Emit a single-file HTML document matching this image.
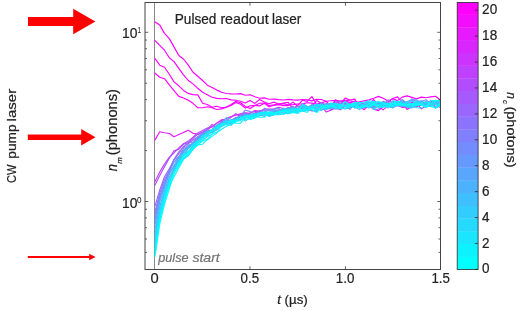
<!DOCTYPE html>
<html><head><meta charset="utf-8"><title>Pulsed readout laser</title>
<style>
html,body{margin:0;padding:0;background:#fff;}
body{width:523px;height:310px;overflow:hidden;font-family:"Liberation Sans",sans-serif;}
svg{display:block;will-change:transform;opacity:0.999;}
text{font-family:"Liberation Sans",sans-serif;fill:#222;stroke:#222;stroke-width:0.22px;}
text.s{stroke-width:0.05px;}
</style></head><body>
<svg width="523" height="310" viewBox="0 0 523 310">
<rect width="523" height="310" fill="#fff"/>
<defs>
<linearGradient id="cool" x1="0" y1="1" x2="0" y2="0">
<stop offset="0" stop-color="#00ffff"/><stop offset="0.97" stop-color="#ff00ff"/><stop offset="1" stop-color="#ff00ff"/>
</linearGradient>
<clipPath id="pc"><rect x="145" y="2.5" width="295.5" height="267"/></clipPath>
</defs>

<!-- red arrows -->
<g fill="#ff0000">
<path d="M28 16.9H73.2V8.8L95.4 21.5L73.2 34.2V26H28Z"/>
<path d="M27.8 134.5H81.2V128.9L95.5 137.2L81.2 145.4V140.1H27.8Z"/>
<path d="M27.8 256.1H89.2V253.8L95.6 257L89.2 260.2V257.9H27.8Z"/>
</g>

<!-- pulse start line -->
<path d="M154.5 2.5V269.5" stroke="#8a8a8a" stroke-width="1" fill="none"/>

<!-- curves -->
<g fill="none" stroke-width="1.15" stroke-linejoin="round" stroke-linecap="round" clip-path="url(#pc)">
<polyline points="155.0,22.0 159.8,25.1 164.5,33.4 169.3,38.6 174.0,46.9 178.8,55.5 183.5,59.0 188.3,65.1 193.0,72.3 197.8,76.3 202.6,80.5 207.3,85.2 212.1,87.4 216.8,90.1 221.6,92.2 226.3,93.5 231.1,93.9 235.8,94.0 240.6,93.6 245.3,95.3 250.1,94.8 254.9,96.7 259.6,98.2 264.4,97.9 269.1,99.3 273.9,99.1 278.6,99.6 283.4,100.0 288.1,99.4 292.9,99.9 297.6,100.1 302.4,99.5 307.2,99.7 311.9,100.9 316.7,99.3 321.4,99.5 326.2,101.2 330.9,100.7 335.7,100.4 340.4,101.0 345.2,100.4 350.0,100.7 354.7,102.1 359.5,101.8 364.2,100.9 369.0,99.9 373.7,98.3 378.5,96.4 383.2,98.3 388.0,101.0 392.8,98.8 397.5,100.6 402.3,97.1 407.0,95.9 411.8,97.4 416.5,98.9 421.3,97.1 426.0,97.7 430.8,96.9 435.5,96.2 440.3,100.0" stroke="#ff00ff"/>
<polyline points="155.0,40.6 159.8,45.4 164.5,50.2 169.3,57.8 174.0,61.6 178.8,68.4 183.5,74.8 188.3,80.5 193.0,83.9 197.8,88.3 202.6,92.3 207.3,94.7 212.1,97.2 216.8,98.4 221.6,98.8 226.3,98.5 231.1,99.9 235.8,100.2 240.6,101.2 245.3,103.0 250.1,100.6 254.9,103.4 259.6,99.4 264.4,102.1 269.1,103.7 273.9,102.1 278.6,104.0 283.4,103.6 288.1,104.9 292.9,104.6 297.6,104.0 302.4,103.9 307.2,102.7 311.9,103.1 316.7,104.3 321.4,103.4 326.2,104.9 330.9,105.8 335.7,104.9 340.4,108.4 345.2,104.4 350.0,104.3 354.7,105.3 359.5,102.5 364.2,103.7 369.0,104.0 373.7,99.6 378.5,105.3 383.2,106.2 388.0,103.3 392.8,103.4 397.5,105.2 402.3,103.9 407.0,103.4 411.8,100.1 416.5,104.1 421.3,104.4 426.0,104.9 430.8,100.4 435.5,107.0 440.3,105.5" stroke="#ff00ff"/>
<polyline points="155.0,58.7 159.8,65.2 164.5,67.2 169.3,74.3 174.0,81.9 178.8,85.8 183.5,90.4 188.3,93.4 193.0,94.6 197.8,94.9 202.6,103.3 207.3,104.5 212.1,107.2 216.8,106.3 221.6,107.7 226.3,107.3 231.1,104.6 235.8,101.5 240.6,102.8 245.3,106.4 250.1,108.6 254.9,105.5 259.6,103.2 264.4,103.1 269.1,105.5 273.9,104.9 278.6,104.1 283.4,103.1 288.1,102.3 292.9,108.8 297.6,105.4 302.4,100.3 307.2,101.4 311.9,96.6 316.7,104.2 321.4,102.8 326.2,101.4 330.9,105.9 335.7,99.9 340.4,103.9 345.2,98.1 350.0,100.0 354.7,99.1 359.5,106.3 364.2,109.7 369.0,105.0 373.7,106.6 378.5,104.3 383.2,105.6 388.0,102.3 392.8,98.5 397.5,96.9 402.3,102.4 407.0,109.5 411.8,106.5 416.5,103.2 421.3,108.8 426.0,106.1 430.8,104.7 435.5,104.7 440.3,103.5" stroke="#ff00ff"/>
<polyline points="155.0,73.2 159.8,77.2 164.5,78.7 169.3,84.9 174.0,90.6 178.8,96.4 183.5,98.0 188.3,100.2 193.0,103.3 197.8,107.8 202.6,107.7 207.3,106.8 212.1,107.7 216.8,109.5 221.6,108.9 226.3,107.1 231.1,105.5 235.8,102.4 240.6,104.2 245.3,108.1 250.1,105.7 254.9,105.4 259.6,105.9 264.4,103.3 269.1,106.8 273.9,105.2 278.6,104.6 283.4,105.6 288.1,105.6 292.9,102.1 297.6,106.2 302.4,105.9 307.2,109.3 311.9,106.1 316.7,100.5 321.4,103.6 326.2,109.6 330.9,105.8 335.7,103.0 340.4,101.2 345.2,100.9 350.0,102.9 354.7,101.1 359.5,108.0 364.2,105.4 369.0,105.5 373.7,109.3 378.5,110.7 383.2,106.4 388.0,106.4 392.8,107.5 397.5,105.3 402.3,100.0 407.0,105.0 411.8,107.3 416.5,106.8 421.3,102.8 426.0,103.5 430.8,102.6 435.5,103.0 440.3,107.7" stroke="#ff00ff"/>
<polyline points="155.0,139.9 159.8,131.7 164.5,132.7 169.3,133.5 174.0,136.8 178.8,134.6 183.5,132.4 188.3,130.3 193.0,133.3 197.8,134.4 202.6,132.1 207.3,129.5 212.1,126.4 216.8,123.1 221.6,120.6 226.3,118.5 231.1,116.5 235.8,115.1 240.6,113.9 245.3,112.8 250.1,113.4 254.9,110.6 259.6,111.4 264.4,109.0 269.1,109.0 273.9,109.1 278.6,107.2 283.4,108.5 288.1,113.2 292.9,111.9 297.6,110.9 302.4,110.6 307.2,108.5 311.9,107.4 316.7,105.2 321.4,105.9 326.2,112.0 330.9,110.3 335.7,106.5 340.4,104.7 345.2,103.0 350.0,105.5 354.7,106.4 359.5,101.9 364.2,105.3 369.0,103.6 373.7,108.2 378.5,106.5 383.2,109.8 388.0,105.3 392.8,104.1 397.5,105.2 402.3,107.5 407.0,107.0 411.8,102.1 416.5,104.0 421.3,104.3 426.0,103.1 430.8,102.1 435.5,108.0 440.3,104.5" stroke="#e619ff"/>
<polyline points="155.0,181.6 159.8,171.9 164.5,164.1 169.3,157.3 174.0,152.8 178.8,147.9 183.5,143.7 188.3,141.1 193.0,137.2 197.8,132.9 202.6,130.6 207.3,128.1 212.1,127.0 216.8,123.1 221.6,119.6 226.3,120.6 231.1,117.2 235.8,113.7 240.6,116.6 245.3,114.3 250.1,115.4 254.9,113.1 259.6,111.0 264.4,110.0 269.1,110.8 273.9,111.0 278.6,109.7 283.4,110.1 288.1,107.5 292.9,109.5 297.6,106.1 302.4,108.1 307.2,109.8 311.9,110.5 316.7,111.5 321.4,105.2 326.2,108.1 330.9,109.2 335.7,108.8 340.4,104.8 345.2,106.4 350.0,109.3 354.7,103.3 359.5,105.7 364.2,107.3 369.0,104.1 373.7,105.8 378.5,102.9 383.2,102.7 388.0,102.6 392.8,104.4 397.5,104.2 402.3,106.1 407.0,102.8 411.8,103.6 416.5,105.8 421.3,105.4 426.0,101.7 430.8,104.7 435.5,103.1 440.3,104.4" stroke="#bf40ff"/>
<polyline points="155.0,185.1 159.8,175.5 164.5,166.8 169.3,158.1 174.0,150.9 178.8,149.3 183.5,144.3 188.3,142.7 193.0,138.6 197.8,134.0 202.6,134.0 207.3,129.2 212.1,124.5 216.8,128.4 221.6,121.2 226.3,122.5 231.1,121.9 235.8,119.4 240.6,114.4 245.3,117.6 250.1,112.8 254.9,111.4 259.6,112.5 264.4,114.4 269.1,113.5 273.9,114.0 278.6,111.3 283.4,111.0 288.1,108.7 292.9,109.4 297.6,110.9 302.4,109.1 307.2,109.9 311.9,107.7 316.7,106.8 321.4,107.6 326.2,106.9 330.9,108.0 335.7,107.2 340.4,109.8 345.2,106.4 350.0,105.5 354.7,103.6 359.5,105.0 364.2,106.5 369.0,103.9 373.7,104.6 378.5,106.1 383.2,104.8 388.0,103.7 392.8,106.2 397.5,105.0 402.3,105.2 407.0,106.7 411.8,106.9 416.5,104.0 421.3,103.1 426.0,104.4 430.8,103.8 435.5,100.3 440.3,105.5" stroke="#b24dff"/>
<polyline points="155.0,205.8 159.8,189.9 164.5,176.8 169.3,168.9 174.0,159.6 178.8,153.7 183.5,146.6 188.3,143.7 193.0,140.1 197.8,136.9 202.6,134.9 207.3,131.6 212.1,130.2 216.8,125.7 221.6,122.2 226.3,121.4 231.1,120.9 235.8,121.1 240.6,119.2 245.3,113.1 250.1,115.3 254.9,117.3 259.6,114.6 264.4,112.5 269.1,113.2 273.9,111.4 278.6,112.7 283.4,111.3 288.1,113.2 292.9,111.4 297.6,108.2 302.4,109.7 307.2,110.2 311.9,107.1 316.7,106.4 321.4,102.4 326.2,107.4 330.9,105.3 335.7,101.8 340.4,101.5 345.2,104.3 350.0,106.5 354.7,105.2 359.5,105.9 364.2,103.0 369.0,101.9 373.7,105.8 378.5,105.7 383.2,104.7 388.0,106.9 392.8,103.0 397.5,103.2 402.3,105.9 407.0,107.9 411.8,104.8 416.5,107.3 421.3,103.4 426.0,104.3 430.8,103.5 435.5,100.7 440.3,103.5" stroke="#9f60ff"/>
<polyline points="155.0,211.5 159.8,192.8 164.5,179.8 169.3,170.5 174.0,159.5 178.8,151.8 183.5,147.5 188.3,142.2 193.0,142.2 197.8,137.9 202.6,132.7 207.3,129.6 212.1,132.3 216.8,125.3 221.6,121.9 226.3,121.3 231.1,120.4 235.8,118.5 240.6,115.1 245.3,113.1 250.1,115.5 254.9,114.2 259.6,110.5 264.4,114.6 269.1,114.2 273.9,111.8 278.6,110.7 283.4,110.9 288.1,108.7 292.9,106.5 297.6,108.8 302.4,105.5 307.2,107.9 311.9,104.6 316.7,106.2 321.4,106.1 326.2,109.5 330.9,104.5 335.7,102.7 340.4,103.6 345.2,102.8 350.0,103.5 354.7,105.4 359.5,106.4 364.2,108.2 369.0,103.9 373.7,109.4 378.5,109.2 383.2,104.9 388.0,100.0 392.8,103.1 397.5,104.0 402.3,99.6 407.0,103.2 411.8,103.3 416.5,102.2 421.3,104.6 426.0,105.8 430.8,103.2 435.5,104.0 440.3,102.4" stroke="#8c73ff"/>
<polyline points="155.0,215.0 159.8,195.7 164.5,183.0 169.3,171.5 174.0,159.7 178.8,156.8 183.5,148.5 188.3,146.0 193.0,145.0 197.8,139.2 202.6,133.7 207.3,129.7 212.1,130.8 216.8,127.1 221.6,125.4 226.3,124.0 231.1,120.7 235.8,118.4 240.6,115.7 245.3,110.2 250.1,111.4 254.9,113.9 259.6,113.7 264.4,114.3 269.1,112.9 273.9,112.8 278.6,113.4 283.4,109.9 288.1,109.8 292.9,106.8 297.6,110.6 302.4,109.2 307.2,109.3 311.9,111.0 316.7,110.1 321.4,107.4 326.2,108.2 330.9,103.9 335.7,106.3 340.4,106.1 345.2,102.5 350.0,107.3 354.7,104.3 359.5,106.2 364.2,104.3 369.0,106.6 373.7,107.5 378.5,103.6 383.2,101.4 388.0,103.5 392.8,105.7 397.5,103.8 402.3,102.9 407.0,104.7 411.8,98.9 416.5,101.6 421.3,100.8 426.0,103.8 430.8,102.4 435.5,101.3 440.3,102.5" stroke="#8080ff"/>
<polyline points="155.0,218.5 159.8,197.2 164.5,182.8 169.3,171.7 174.0,162.0 178.8,157.6 183.5,150.7 188.3,146.6 193.0,142.6 197.8,137.0 202.6,135.4 207.3,132.2 212.1,129.2 216.8,125.4 221.6,122.7 226.3,122.5 231.1,123.3 235.8,117.5 240.6,117.8 245.3,115.4 250.1,116.5 254.9,115.6 259.6,116.0 264.4,108.3 269.1,110.5 273.9,109.7 278.6,110.7 283.4,109.1 288.1,108.5 292.9,110.4 297.6,112.6 302.4,103.6 307.2,106.2 311.9,107.6 316.7,107.0 321.4,105.9 326.2,103.5 330.9,103.6 335.7,106.6 340.4,107.7 345.2,105.9 350.0,103.7 354.7,104.9 359.5,104.4 364.2,105.7 369.0,105.0 373.7,103.4 378.5,104.6 383.2,102.1 388.0,105.4 392.8,106.6 397.5,102.3 402.3,104.5 407.0,102.1 411.8,105.5 416.5,105.9 421.3,103.7 426.0,105.6 430.8,103.2 435.5,102.3 440.3,102.2" stroke="#738cff"/>
<polyline points="155.0,221.0 159.8,199.5 164.5,185.7 169.3,173.8 174.0,166.2 178.8,160.0 183.5,151.9 188.3,145.0 193.0,143.8 197.8,141.5 202.6,136.3 207.3,130.9 212.1,130.0 216.8,129.7 221.6,122.3 226.3,122.9 231.1,120.2 235.8,117.4 240.6,118.4 245.3,114.3 250.1,115.8 254.9,117.5 259.6,115.2 264.4,112.3 269.1,109.5 273.9,109.4 278.6,107.9 283.4,113.5 288.1,110.6 292.9,108.0 297.6,106.6 302.4,106.3 307.2,107.2 311.9,105.2 316.7,110.0 321.4,106.1 326.2,105.0 330.9,106.5 335.7,108.8 340.4,108.8 345.2,105.2 350.0,105.8 354.7,105.6 359.5,106.1 364.2,105.6 369.0,103.2 373.7,102.0 378.5,104.4 383.2,102.2 388.0,106.5 392.8,104.8 397.5,102.4 402.3,103.2 407.0,102.9 411.8,103.5 416.5,105.6 421.3,101.5 426.0,99.8 430.8,103.6 435.5,103.3 440.3,103.9" stroke="#6699ff"/>
<polyline points="155.0,225.0 159.8,201.9 164.5,187.6 169.3,174.4 174.0,165.5 178.8,157.0 183.5,150.3 188.3,147.9 193.0,144.0 197.8,136.4 202.6,133.4 207.3,132.5 212.1,131.1 216.8,126.0 221.6,123.8 226.3,119.7 231.1,123.8 235.8,120.4 240.6,119.4 245.3,118.0 250.1,117.6 254.9,116.4 259.6,113.8 264.4,114.9 269.1,113.4 273.9,114.9 278.6,110.8 283.4,109.7 288.1,111.3 292.9,112.3 297.6,109.9 302.4,107.3 307.2,107.5 311.9,106.5 316.7,110.5 321.4,109.1 326.2,109.2 330.9,107.2 335.7,105.0 340.4,107.6 345.2,108.9 350.0,107.0 354.7,105.4 359.5,107.1 364.2,104.5 369.0,106.1 373.7,103.5 378.5,102.4 383.2,105.0 388.0,105.1 392.8,108.0 397.5,104.3 402.3,104.1 407.0,101.8 411.8,99.9 416.5,99.7 421.3,103.8 426.0,101.5 430.8,105.4 435.5,106.7 440.3,103.7" stroke="#59a6ff"/>
<polyline points="155.0,229.5 159.8,206.1 164.5,191.1 169.3,177.8 174.0,169.7 178.8,159.5 183.5,155.3 188.3,148.7 193.0,144.5 197.8,142.0 202.6,138.0 207.3,134.2 212.1,132.2 216.8,129.8 221.6,123.8 226.3,123.9 231.1,122.6 235.8,118.6 240.6,118.9 245.3,114.8 250.1,118.5 254.9,115.5 259.6,114.7 264.4,116.4 269.1,113.7 273.9,114.2 278.6,110.6 283.4,110.3 288.1,108.1 292.9,109.4 297.6,111.5 302.4,109.9 307.2,110.4 311.9,106.5 316.7,105.6 321.4,105.9 326.2,107.6 330.9,107.3 335.7,106.3 340.4,107.1 345.2,105.6 350.0,105.4 354.7,107.8 359.5,104.5 364.2,105.2 369.0,108.0 373.7,105.6 378.5,106.2 383.2,103.7 388.0,108.0 392.8,100.8 397.5,101.4 402.3,101.6 407.0,106.7 411.8,105.2 416.5,103.7 421.3,101.4 426.0,104.1 430.8,104.1 435.5,102.5 440.3,100.6" stroke="#4cb2ff"/>
<polyline points="155.0,234.0 159.8,207.8 164.5,191.3 169.3,178.2 174.0,167.9 178.8,157.5 183.5,153.6 188.3,147.0 193.0,144.0 197.8,141.0 202.6,135.7 207.3,131.4 212.1,131.3 216.8,128.0 221.6,123.8 226.3,117.5 231.1,119.5 235.8,119.9 240.6,120.0 245.3,115.8 250.1,114.4 254.9,113.9 259.6,115.7 264.4,111.8 269.1,112.5 273.9,110.6 278.6,111.9 283.4,108.1 288.1,110.5 292.9,108.8 297.6,108.5 302.4,109.4 307.2,110.3 311.9,104.8 316.7,108.5 321.4,108.0 326.2,106.1 330.9,108.7 335.7,106.7 340.4,108.2 345.2,104.8 350.0,103.5 354.7,107.1 359.5,109.5 364.2,106.9 369.0,106.8 373.7,104.1 378.5,101.9 383.2,103.4 388.0,107.0 392.8,101.2 397.5,102.6 402.3,100.1 407.0,103.4 411.8,105.5 416.5,101.8 421.3,102.6 426.0,106.0 430.8,104.0 435.5,101.3 440.3,100.6" stroke="#40bfff"/>
<polyline points="155.0,237.5 159.8,211.2 164.5,193.4 169.3,181.5 174.0,172.2 178.8,161.9 183.5,155.2 188.3,151.8 193.0,146.6 197.8,142.7 202.6,136.0 207.3,136.0 212.1,130.6 216.8,125.1 221.6,124.6 226.3,124.3 231.1,125.3 235.8,120.3 240.6,116.2 245.3,121.1 250.1,117.6 254.9,115.5 259.6,113.0 264.4,112.1 269.1,116.2 273.9,113.2 278.6,111.6 283.4,110.7 288.1,113.9 292.9,110.0 297.6,111.0 302.4,110.0 307.2,109.3 311.9,106.7 316.7,108.7 321.4,110.5 326.2,107.5 330.9,104.9 335.7,103.4 340.4,105.8 345.2,105.2 350.0,105.2 354.7,105.3 359.5,102.4 364.2,106.0 369.0,105.6 373.7,104.8 378.5,105.1 383.2,106.4 388.0,105.0 392.8,102.9 397.5,106.2 402.3,103.8 407.0,102.7 411.8,100.8 416.5,103.4 421.3,101.8 426.0,102.5 430.8,104.4 435.5,103.9 440.3,105.7" stroke="#33ccff"/>
<polyline points="155.0,241.5 159.8,212.3 164.5,194.4 169.3,180.5 174.0,171.3 178.8,162.6 183.5,155.2 188.3,151.5 193.0,146.0 197.8,140.9 202.6,135.2 207.3,134.4 212.1,131.4 216.8,128.2 221.6,124.8 226.3,121.6 231.1,120.5 235.8,119.8 240.6,118.0 245.3,116.7 250.1,115.2 254.9,115.9 259.6,115.3 264.4,112.7 269.1,114.6 273.9,114.5 278.6,114.0 283.4,111.5 288.1,110.3 292.9,107.7 297.6,110.3 302.4,104.9 307.2,106.7 311.9,106.8 316.7,108.7 321.4,107.2 326.2,104.7 330.9,103.1 335.7,103.9 340.4,105.5 345.2,105.6 350.0,105.0 354.7,103.8 359.5,104.4 364.2,106.7 369.0,103.0 373.7,104.4 378.5,107.6 383.2,106.1 388.0,103.8 392.8,105.4 397.5,103.0 402.3,103.9 407.0,106.9 411.8,108.1 416.5,101.5 421.3,104.7 426.0,107.6 430.8,103.5 435.5,104.1 440.3,106.6" stroke="#29d6ff"/>
<polyline points="155.0,245.0 159.8,216.0 164.5,197.6 169.3,182.1 174.0,172.8 178.8,164.3 183.5,159.3 188.3,155.9 193.0,149.3 197.8,143.1 202.6,140.3 207.3,136.5 212.1,134.5 216.8,127.8 221.6,124.8 226.3,120.9 231.1,122.7 235.8,120.8 240.6,118.0 245.3,116.4 250.1,115.5 254.9,114.1 259.6,114.4 264.4,113.6 269.1,116.5 273.9,114.6 278.6,111.6 283.4,110.8 288.1,113.5 292.9,112.1 297.6,111.0 302.4,111.1 307.2,112.3 311.9,106.8 316.7,106.2 321.4,103.8 326.2,107.3 330.9,106.0 335.7,105.0 340.4,104.4 345.2,106.8 350.0,105.6 354.7,104.4 359.5,107.5 364.2,103.6 369.0,102.3 373.7,109.3 378.5,105.0 383.2,103.7 388.0,103.0 392.8,103.9 397.5,105.7 402.3,106.0 407.0,105.6 411.8,103.9 416.5,101.2 421.3,103.9 426.0,106.8 430.8,106.5 435.5,104.0 440.3,105.3" stroke="#20dfff"/>
<polyline points="155.0,248.5 159.8,216.8 164.5,196.8 169.3,182.8 174.0,172.3 178.8,163.6 183.5,158.2 188.3,154.6 193.0,149.3 197.8,142.4 202.6,137.4 207.3,133.6 212.1,129.7 216.8,128.2 221.6,126.5 226.3,123.9 231.1,121.9 235.8,120.2 240.6,118.2 245.3,115.8 250.1,119.4 254.9,118.2 259.6,113.7 264.4,112.3 269.1,112.1 273.9,112.7 278.6,114.6 283.4,113.9 288.1,113.3 292.9,112.7 297.6,112.1 302.4,110.8 307.2,109.5 311.9,107.8 316.7,104.0 321.4,106.0 326.2,109.8 330.9,105.9 335.7,104.7 340.4,107.4 345.2,106.0 350.0,104.5 354.7,108.0 359.5,106.8 364.2,106.7 369.0,104.1 373.7,105.5 378.5,105.5 383.2,106.1 388.0,106.9 392.8,106.9 397.5,105.0 402.3,105.6 407.0,102.2 411.8,104.8 416.5,105.4 421.3,103.4 426.0,102.2 430.8,103.3 435.5,101.3 440.3,103.8" stroke="#17e8ff"/>
<polyline points="155.0,251.5 159.8,218.9 164.5,200.3 169.3,186.6 174.0,176.6 178.8,168.0 183.5,159.2 188.3,152.8 193.0,147.6 197.8,144.9 202.6,144.2 207.3,139.7 212.1,136.4 216.8,133.0 221.6,125.5 226.3,124.3 231.1,122.0 235.8,123.2 240.6,123.1 245.3,117.7 250.1,117.1 254.9,117.4 259.6,114.9 264.4,113.6 269.1,112.7 273.9,115.1 278.6,111.6 283.4,114.2 288.1,112.2 292.9,112.5 297.6,113.5 302.4,109.0 307.2,107.4 311.9,109.0 316.7,106.1 321.4,105.8 326.2,106.6 330.9,106.9 335.7,104.1 340.4,104.9 345.2,106.8 350.0,108.4 354.7,102.3 359.5,107.2 364.2,107.2 369.0,103.4 373.7,101.8 378.5,105.0 383.2,103.9 388.0,104.7 392.8,106.1 397.5,104.0 402.3,104.5 407.0,105.2 411.8,106.0 416.5,107.8 421.3,108.0 426.0,105.2 430.8,103.7 435.5,108.3 440.3,105.9" stroke="#0ff0ff"/>
<polyline points="155.0,254.0 159.8,219.4 164.5,200.7 169.3,184.7 174.0,172.9 178.8,162.9 183.5,156.9 188.3,152.2 193.0,145.0 197.8,141.3 202.6,138.8 207.3,133.5 212.1,129.8 216.8,127.3 221.6,123.8 226.3,124.4 231.1,120.4 235.8,121.3 240.6,120.7 245.3,115.7 250.1,116.4 254.9,114.9 259.6,112.8 264.4,113.4 269.1,113.2 273.9,114.4 278.6,114.7 283.4,110.1 288.1,109.9 292.9,111.1 297.6,112.1 302.4,104.9 307.2,110.1 311.9,108.0 316.7,110.4 321.4,106.9 326.2,105.1 330.9,106.1 335.7,108.2 340.4,106.3 345.2,101.3 350.0,105.9 354.7,102.3 359.5,102.7 364.2,102.3 369.0,100.8 373.7,101.6 378.5,102.1 383.2,102.9 388.0,104.0 392.8,103.6 397.5,101.3 402.3,103.2 407.0,105.7 411.8,106.1 416.5,104.6 421.3,105.2 426.0,105.8 430.8,106.7 435.5,107.5 440.3,103.8" stroke="#08f7ff"/>
<polyline points="155.0,256.4 159.8,223.8 164.5,204.1 169.3,189.1 174.0,172.9 178.8,166.3 183.5,154.8 188.3,154.3 193.0,149.3 197.8,145.0 202.6,140.8 207.3,139.4 212.1,133.8 216.8,132.4 221.6,129.2 226.3,126.3 231.1,124.2 235.8,121.9 240.6,117.9 245.3,119.5 250.1,119.0 254.9,116.6 259.6,117.3 264.4,117.2 269.1,112.5 273.9,113.2 278.6,112.3 283.4,110.7 288.1,112.1 292.9,109.6 297.6,109.3 302.4,110.1 307.2,109.9 311.9,109.4 316.7,112.5 321.4,107.6 326.2,107.7 330.9,104.7 335.7,107.0 340.4,108.5 345.2,108.7 350.0,105.1 354.7,104.9 359.5,107.7 364.2,105.5 369.0,107.0 373.7,103.5 378.5,107.2 383.2,107.2 388.0,106.0 392.8,103.3 397.5,103.9 402.3,104.5 407.0,104.8 411.8,104.1 416.5,103.7 421.3,104.3 426.0,106.7 430.8,100.6 435.5,100.6 440.3,100.2" stroke="#00ffff"/>
</g>

<!-- axes -->
<rect x="145" y="2.5" width="295.5" height="267" fill="none" stroke="#454545" stroke-width="1"/>
<g stroke="#3a3a3a" stroke-width="0.8" fill="none">
<path d="M145.0 252.43h2.0M440.5 252.43h-2.0"/>
<path d="M145.0 239.04h2.0M440.5 239.04h-2.0"/>
<path d="M145.0 227.71h2.0M440.5 227.71h-2.0"/>
<path d="M145.0 217.90h2.0M440.5 217.90h-2.0"/>
<path d="M145.0 209.24h2.0M440.5 209.24h-2.0"/>
<path d="M145.0 201.50h3.2M440.5 201.50h-3.2"/>
<path d="M145.0 150.57h2.0M440.5 150.57h-2.0"/>
<path d="M145.0 120.77h2.0M440.5 120.77h-2.0"/>
<path d="M145.0 99.63h2.0M440.5 99.63h-2.0"/>
<path d="M145.0 83.23h2.0M440.5 83.23h-2.0"/>
<path d="M145.0 69.84h2.0M440.5 69.84h-2.0"/>
<path d="M145.0 58.51h2.0M440.5 58.51h-2.0"/>
<path d="M145.0 48.70h2.0M440.5 48.70h-2.0"/>
<path d="M145.0 40.04h2.0M440.5 40.04h-2.0"/>
<path d="M145.0 32.30h3.2M440.5 32.30h-3.2"/>
<path d="M249.95 269.5v-3.2M249.95 2.5v3.2"/>
<path d="M345.40 269.5v-3.2M345.40 2.5v3.2"/>
</g>

<!-- colorbar -->
<rect x="457.2" y="256.66" width="20.9" height="12.84" fill="#00ffff"/>
<rect x="457.2" y="243.92" width="20.9" height="13.04" fill="#0df2ff"/>
<rect x="457.2" y="231.18" width="20.9" height="13.04" fill="#1ae6ff"/>
<rect x="457.2" y="218.44" width="20.9" height="13.04" fill="#26d9ff"/>
<rect x="457.2" y="205.70" width="20.9" height="13.04" fill="#33ccff"/>
<rect x="457.2" y="192.96" width="20.9" height="13.04" fill="#40bfff"/>
<rect x="457.2" y="180.22" width="20.9" height="13.04" fill="#4cb2ff"/>
<rect x="457.2" y="167.48" width="20.9" height="13.04" fill="#59a6ff"/>
<rect x="457.2" y="154.74" width="20.9" height="13.04" fill="#6699ff"/>
<rect x="457.2" y="142.00" width="20.9" height="13.04" fill="#738cff"/>
<rect x="457.2" y="129.26" width="20.9" height="13.04" fill="#8080ff"/>
<rect x="457.2" y="116.52" width="20.9" height="13.04" fill="#8c73ff"/>
<rect x="457.2" y="103.78" width="20.9" height="13.04" fill="#9966ff"/>
<rect x="457.2" y="91.04" width="20.9" height="13.04" fill="#a659ff"/>
<rect x="457.2" y="78.30" width="20.9" height="13.04" fill="#b24dff"/>
<rect x="457.2" y="65.56" width="20.9" height="13.04" fill="#bf40ff"/>
<rect x="457.2" y="52.82" width="20.9" height="13.04" fill="#cc33ff"/>
<rect x="457.2" y="40.08" width="20.9" height="13.04" fill="#d926ff"/>
<rect x="457.2" y="27.34" width="20.9" height="13.04" fill="#e619ff"/>
<rect x="457.2" y="14.60" width="20.9" height="13.04" fill="#f20dff"/>
<rect x="457.2" y="2.50" width="20.9" height="12.40" fill="#ff00ff"/>
<rect x="457.2" y="2.5" width="20.9" height="267" fill="none" stroke="#2a2a2a" stroke-width="0.8"/>
<g stroke="#2a2a2a" stroke-width="0.8" fill="none">
<path d="M478 269.40h-3.2"/>
<path d="M478 243.48h-3.2"/>
<path d="M478 217.56h-3.2"/>
<path d="M478 191.64h-3.2"/>
<path d="M478 165.72h-3.2"/>
<path d="M478 139.80h-3.2"/>
<path d="M478 113.88h-3.2"/>
<path d="M478 87.96h-3.2"/>
<path d="M478 62.04h-3.2"/>
<path d="M478 36.12h-3.2"/>
<path d="M478 10.20h-3.2"/>
</g>
<g font-size="14.9">
<text x="482.1" y="273.4" textLength="7.5" lengthAdjust="spacingAndGlyphs">0</text>
<text x="482.1" y="247.5" textLength="7.5" lengthAdjust="spacingAndGlyphs">2</text>
<text x="482.1" y="221.6" textLength="7.5" lengthAdjust="spacingAndGlyphs">4</text>
<text x="482.1" y="195.6" textLength="7.5" lengthAdjust="spacingAndGlyphs">6</text>
<text x="482.1" y="169.7" textLength="7.5" lengthAdjust="spacingAndGlyphs">8</text>
<text x="482.1" y="143.8" textLength="15.1" lengthAdjust="spacingAndGlyphs">10</text>
<text x="482.1" y="117.9" textLength="15.1" lengthAdjust="spacingAndGlyphs">12</text>
<text x="482.1" y="92.0" textLength="15.1" lengthAdjust="spacingAndGlyphs">14</text>
<text x="482.1" y="66.0" textLength="15.1" lengthAdjust="spacingAndGlyphs">16</text>
<text x="482.1" y="40.1" textLength="15.1" lengthAdjust="spacingAndGlyphs">18</text>
<text x="482.1" y="14.2" textLength="15.1" lengthAdjust="spacingAndGlyphs">20</text>
</g>

<!-- x tick labels -->
<g font-size="14.9">
<text x="150.45" y="283.1" textLength="8.2" lengthAdjust="spacingAndGlyphs">0</text>
<text x="240.6" y="283.1" textLength="18.5" lengthAdjust="spacingAndGlyphs">0.5</text>
<text x="335.8" y="283.1" textLength="18.5" lengthAdjust="spacingAndGlyphs">1.0</text>
<text x="431.4" y="283.1" textLength="18.5" lengthAdjust="spacingAndGlyphs">1.5</text>
<text x="122.0" y="37.9" textLength="15.4" lengthAdjust="spacingAndGlyphs">10</text>
<text x="122.0" y="207.9" textLength="15.4" lengthAdjust="spacingAndGlyphs">10</text>
</g>
<g font-size="7.8">
<text class="s" x="137.6" y="32.8" font-size="9.2" textLength="3.6" lengthAdjust="spacingAndGlyphs">1</text>
<text class="s" x="137.1" y="202.7" font-size="8.8" textLength="4.5" lengthAdjust="spacingAndGlyphs">0</text>
</g>

<!-- labels -->
<g font-size="14">
<text x="174.8" y="24.1" textLength="41.6" lengthAdjust="spacingAndGlyphs">Pulsed</text>
<text x="220.4" y="24.1" textLength="48.2" lengthAdjust="spacingAndGlyphs">readout</text>
<text x="272.0" y="24.1" textLength="29.2" lengthAdjust="spacingAndGlyphs">laser</text>
</g>
<g font-size="13.1" font-style="italic" style="fill:#737373;stroke:#737373">
<text x="158.3" y="262.1" style="fill:#737373;stroke:#737373" textLength="30.2" lengthAdjust="spacingAndGlyphs">pulse</text>
<text x="192.4" y="262.1" style="fill:#737373;stroke:#737373" textLength="27.4" lengthAdjust="spacingAndGlyphs">start</text>
</g>
<text x="277.2" y="304.4" font-size="13.3" textLength="30.6" lengthAdjust="spacingAndGlyphs"><tspan font-style="italic">t</tspan> (µs)</text>

<g transform="translate(16 182.3) rotate(-90)" font-size="13.4">
<text x="-0.6" y="0" textLength="18.4" lengthAdjust="spacingAndGlyphs">CW</text>
<text x="23.6" y="0" textLength="34.2" lengthAdjust="spacingAndGlyphs">pump</text>
<text x="60.9" y="0" textLength="32.6" lengthAdjust="spacingAndGlyphs">laser</text>
</g>

<g transform="translate(117.1 171.2) rotate(-90)">
<text x="0" y="0" font-size="14" font-style="italic" textLength="7.2" lengthAdjust="spacingAndGlyphs">n</text>
<text x="7.4" y="4.6" font-size="7.8" font-style="italic">m</text>
<text x="16.0" y="0" font-size="13.8" textLength="66.2" lengthAdjust="spacingAndGlyphs">(phonons)</text>
</g>

<g transform="translate(507.3 92.3) rotate(90)">
<text x="0" y="0" font-size="13.3" font-style="italic" textLength="6.6" lengthAdjust="spacingAndGlyphs">n</text>
<text x="7.6" y="4.6" font-size="7.6" font-style="italic">c</text>
<text x="14.2" y="0" font-size="13.6" textLength="61.2" lengthAdjust="spacingAndGlyphs">(photons)</text>
</g>
</svg>
</body></html>
